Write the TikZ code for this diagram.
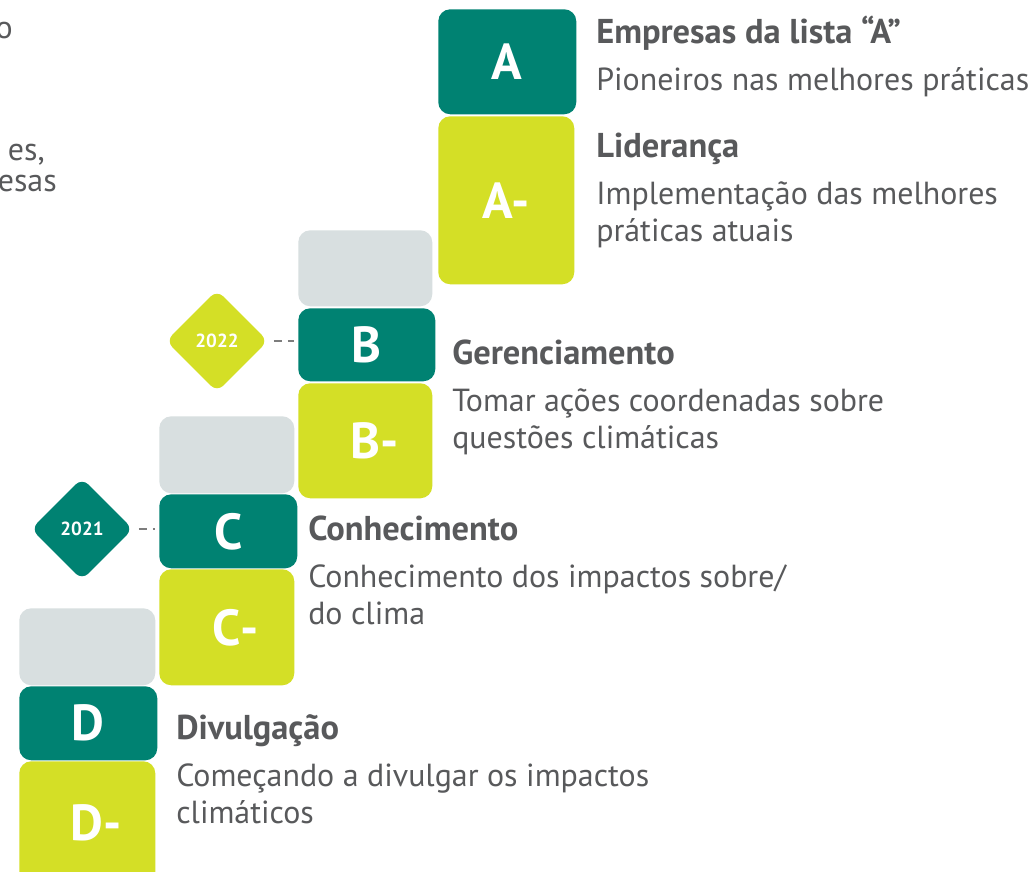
\documentclass[tikz,border=0pt]{standalone}
\usepackage{fontspec}
\setmainfont{PT Sans}
\usetikzlibrary{shapes.geometric}

\definecolor{verde}{RGB}{0,130,114}
\definecolor{lima}{RGB}{212,223,38}
\definecolor{cinza}{RGB}{216,223,224}
\definecolor{texto}{RGB}{88,89,91}
\definecolor{traco}{RGB}{125,125,125}

\tikzset{
  caixa/.style={anchor=north west, rounded corners=0.3cm, inner sep=0pt,
    text=white, font=\fontsize{36}{40}\selectfont\bfseries},
  caixaverde/.style={caixa, fill=verde},
  caixalima/.style={caixa, fill=lima},
  caixacinza/.style={caixa, fill=cinza},
  ano/.style={diamond, aspect=1, minimum size=2.55cm, inner sep=0pt,
    rounded corners=0.22cm, text=white, font=\fontsize{13.5}{15}\selectfont\bfseries},
  titulo/.style={anchor=base west, inner sep=0pt, text=texto,
    font=\fontsize{24.5}{28}\selectfont\bfseries},
  descricao/.style={anchor=base west, inner sep=0pt, text=texto, align=left,
    font=\fontsize{22.7}{26.3}\selectfont},
  fragmento/.style={anchor=base east, inner sep=0pt, text=texto,
    font=\fontsize{22.7}{26.3}\selectfont},
  ligacao/.style={traco, line width=2pt, dash pattern=on 6pt off 4pt,
    shorten <=4pt, shorten >=3pt}
}

\begin{document}
\begin{tikzpicture}[x=0.025cm, y=-0.025cm]
    \clip (0,0) rectangle (1036,871);
    \fill[white] (0,0) rectangle (1036,871);
    \def\px{0.025cm}

    % texto cortado a esquerda
    \node[fragmento] (frag1) at (13,38) {o};
    \node[fragmento] (frag2) at (45,160) {es,};
    \node[fragmento] (frag3) at (57,191) {esas};

    % nivel A
    \node[caixaverde, minimum width=138*\px, minimum height=105*\px] (A) at (438,9) {A};
    \node[caixalima, minimum width=136*\px, minimum height=168*\px] (Am) at (438,116) {A-};

    % nivel B
    \node[caixacinza, minimum width=134*\px, minimum height=76*\px] (gB) at (298,230) {};
    \node[caixaverde, minimum width=137*\px, minimum height=73*\px] (B) at (298,308) {B};
    \node[caixalima, minimum width=134*\px, minimum height=115*\px] (Bm) at (298,383) {B\rlap{-}};

    % nivel C
    \node[caixacinza, minimum width=135*\px, minimum height=77*\px] (gC) at (159,416) {};
    \node[caixaverde, minimum width=138*\px, minimum height=74*\px] (C) at (159,494) {C};
    \node[caixalima, minimum width=135*\px, minimum height=116*\px] (Cm) at (159,569) {C\rlap{-}};

    % nivel D
    \node[caixacinza, minimum width=136*\px, minimum height=77*\px] (gD) at (19,608) {};
    \node[caixaverde, minimum width=138*\px, minimum height=74*\px] (D) at (19,686) {D};
    \node[caixalima, minimum width=136*\px, minimum height=124*\px] (Dm) at (19,761) {D\rlap{-}};

    % anos
    \node[ano, fill=lima] (a2022) at (217,341) {2022};
    \node[ano, fill=verde] (a2021) at (82,529) {2021};
    \draw[ligacao] (a2022.east) -- (a2022.east -| B.west);
    \draw[ligacao] (a2021.east) -- (a2021.east -| C.west);

    % textos (base = ultima linha)
    \node[titulo] (tA) at (596,43) {Empresas da lista “A”};
    \node[descricao] (dA) at (596,90) {Pioneiros nas melhores práticas};
    \node[titulo] (tAm) at (596,157) {Liderança};
    \node[descricao] (dAm) at (596,241) {Implementação das melhores\\práticas atuais};
    \node[titulo] (tB) at (452,364) {Gerenciamento};
    \node[descricao] (dB) at (452,448) {Tomar ações coordenadas sobre\\questões climáticas};
    \node[titulo] (tC) at (308,540) {Conhecimento};
    \node[descricao] (dC) at (308,624) {Conhecimento dos impactos sobre/\\do clima};
    \node[titulo] (tD) at (176,739) {Divulgação};
    \node[descricao] (dD) at (176,823) {Começando a divulgar os impactos\\climáticos};
\end{tikzpicture}
\end{document}
